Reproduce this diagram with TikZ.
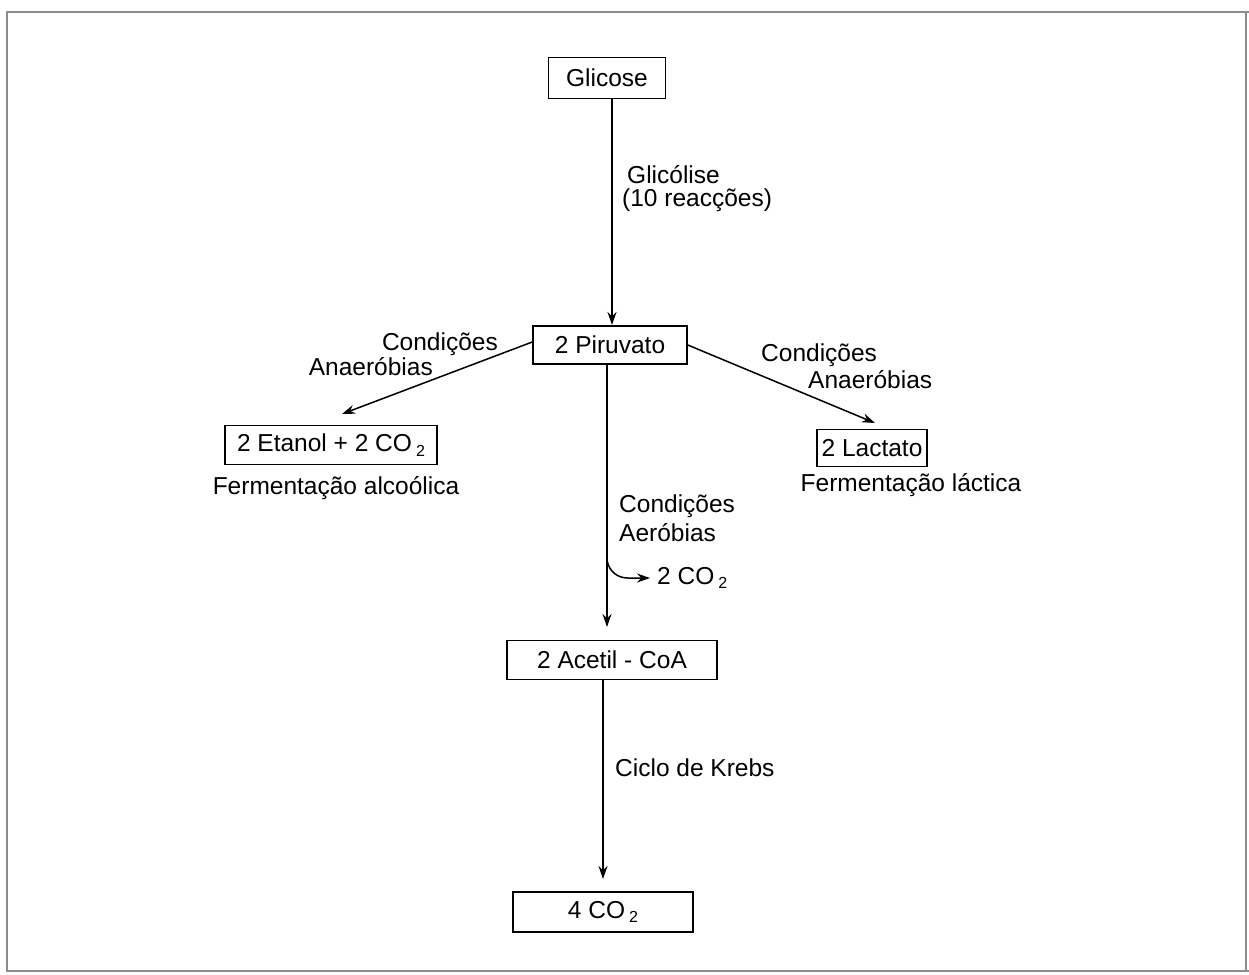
\documentclass[tikz,border=0pt]{standalone}
\usepackage{fontspec}
\setmainfont{Liberation Sans}
\usetikzlibrary{arrows.meta}
\newcommand{\subtwo}{\raisebox{-0.35ex}{\fontsize{16}{16}\selectfont 2}}
\begin{document}
\begin{tikzpicture}[x=1pt,y=-1pt,
  every node/.style={font=\fontsize{24.5}{29}\selectfont, inner sep=0pt},
  box/.style={draw, line width=1.5pt, minimum width=#1, minimum height=39pt},
  lbl/.style={anchor=west},
  arr/.style={line width=1.5pt, -{Stealth[length=13pt,width=9pt]}},
  frame/.style={draw=black!45, line width=1.8pt}]
\useasboundingbox (0,0) rectangle (1249,974);
\draw[frame] (1249,12) -- (7,12) -- (7,971) -- (1249,971);
\draw[frame] (1246,12) -- (1246,971);

\node[box=117pt, minimum height=41pt] (glc) at (607,78) {Glicose};
\node[box=154pt, minimum height=38pt] (pir) at (610,345) {2 Piruvato};
\node[box=212pt] (eta) at (331,445) {2 Etanol + 2 CO\,\subtwo};
\node[box=110pt, minimum height=37pt] (lac) at (872,448) {2 Lactato};
\node[box=210pt] (ace) at (612,660) {2 Acetil - CoA};
\node[box=180pt, minimum height=40pt] (co4) at (603,912) {4 CO\,\subtwo};

\node[lbl] (gl1) at (627,175) {Glicólise};
\node[lbl] (gl2) at (622,200) {(10 reacções)};
\node[anchor=east] (cl1) at (498,344) {Condições};
\node[anchor=east] (cl2) at (433,367) {Anaeróbias};
\node[lbl] (cr1) at (761,355) {Condições};
\node[lbl] (cr2) at (808,380) {Anaeróbias};
\node (fa) at (336,488) {Fermentação alcoólica};
\node (fl) at (911,485) {Fermentação láctica};
\node[lbl] (ca1) at (619,506) {Condições};
\node[lbl] (ca2) at (619,533) {Aeróbias};
\node[lbl] (co2) at (657,578) {2 CO\,\subtwo};
\node[lbl] (kr) at (615,768) {Ciclo de Krebs};

\coordinate (t1) at (612,325);
\coordinate (t2) at (342,414);
\coordinate (t3) at (875,423);
\coordinate (t4) at (607,627);
\coordinate (t5) at (603,879);
\coordinate (b1) at (607,560);
\coordinate (t6) at (650,578);

\draw[arr] (glc.south -| t1) -- (t1);
\draw[arr] (pir.west) ++(0,-3) -- (t2);
\draw[arr] (pir.east) -- (t3);
\draw[arr] (pir.south -| t4) -- (t4);
\draw[arr] (b1) .. controls (609,572) and (618,578) .. (628,578) -- (t6);
\draw[arr] (ace.south -| t5) -- (t5);
\end{tikzpicture}
\end{document}
